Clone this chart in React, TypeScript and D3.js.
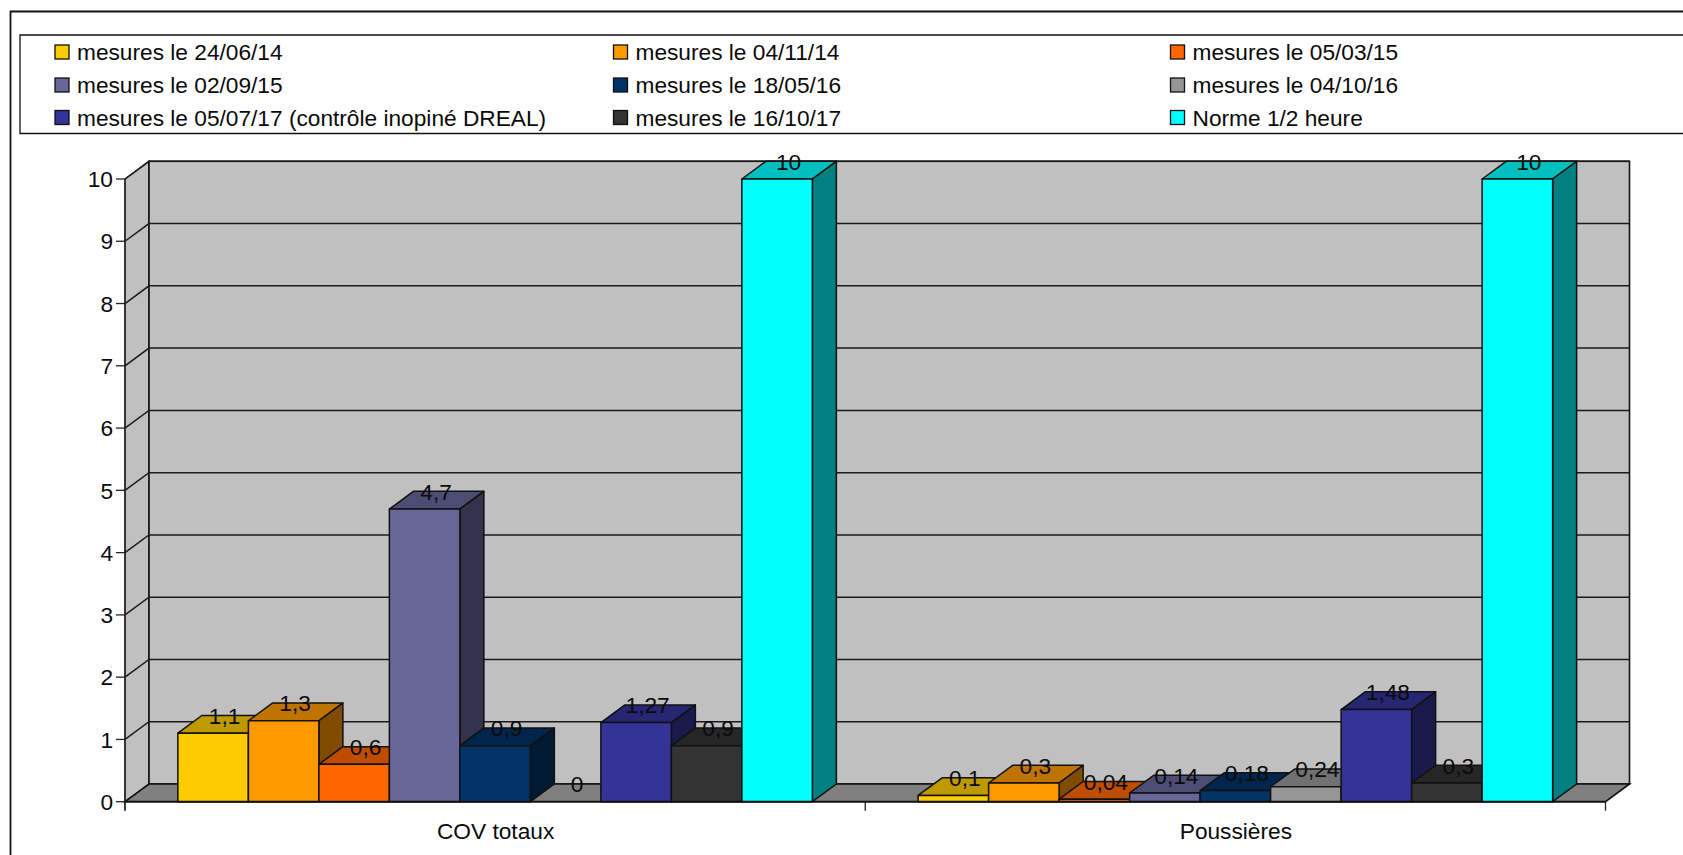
import React from "react";
import * as d3 from "d3";

// Measurement campaigns, one bar per campaign in each category.
const seriesNames = [
  "mesures le 24/06/14",
  "mesures le 04/11/14",
  "mesures le 05/03/15",
  "mesures le 02/09/15",
  "mesures le 18/05/16",
  "mesures le 04/10/16",
  "mesures le 05/07/17 (contrôle inopiné DREAL)",
  "mesures le 16/10/17",
  "Norme 1/2 heure",
];
const seriesColors = ["#FFCC00", "#FF9900", "#FF6600", "#666699", "#003366", "#969696", "#333399", "#333333", "#00FFFF"];
const categories = ["COV totaux", "Poussières"];
const covValues = [1.1, 1.3, 0.6, 4.7, 0.9, 0, 1.27, 0.9, 10];
const poussieresValues = [0.1, 0.3, 0.04, 0.14, 0.18, 0.24, 1.48, 0.3, 10];
const yTicks = [0, 1, 2, 3, 4, 5, 6, 7, 8, 9, 10];

const FONT = "'Liberation Sans', Arial, sans-serif";
const FS = 22.7;
const W = 1683;
const H = 855;
const X0 = 125;
const X1 = 1605.5;
const Y0 = 801.7;
const Y10 = 179;
const DX = 24;
const DY = -17.7;

const shade = (c: string, k: number) => {
  const r = d3.rgb(c);
  return d3.rgb(r.r * k, r.g * k, r.b * k).formatHex();
};
const pts = (p: number[][]) => p.map((q) => q.join(",")).join(" ");
const fmt = (v: number) => String(v).replace(".", ",");

export default function App() {
  const y = d3.scaleLinear().domain([0, 10]).range([Y0, Y10]);
  const xCat = d3.scaleBand<string>().domain(categories).range([X0, X1]);
  const xBar = d3
    .scaleBand<number>()
    .domain(d3.range(seriesNames.length))
    .range([0, xCat.bandwidth()])
    .paddingInner(0)
    .paddingOuter(0.75);
  const rows = [covValues, poussieresValues];
  const bw = xBar.bandwidth();

  const legendCols = [54.5, 613, 1170];
  const legendRows = [52, 85, 117.5];

  return (
    <svg width={W} height={H} style={{ position: "absolute", left: 0, top: 0, background: "#fff" }} fontFamily={FONT} fontSize={FS}>
      {/* chart frame, open on the right and at the bottom */}
      <path d={`M10.5,${H} V11.5 H${W}`} fill="none" stroke="#111" strokeWidth={1.8} />
      <path d={`M${W},35 H20 V133.5 H${W}`} fill="none" stroke="#111" strokeWidth={1.3} />

      {seriesNames.map((name, i) => {
        const cx = legendCols[i % 3];
        const cy = legendRows[Math.floor(i / 3)];
        return (
          <g key={name}>
            <rect x={cx + 0.5} y={cy - 7} width={14} height={14} fill={seriesColors[i]} stroke="#111" strokeWidth={1.3} />
            <text x={cx + 22.5} y={cy} dy="0.36em" fill="#0a0a0a">{name}</text>
          </g>
        );
      })}

      {/* side wall, back wall and floor */}
      <polygon points={pts([[X0, Y0], [X0 + DX, Y0 + DY], [X0 + DX, Y10 + DY], [X0, Y10]])} fill="#C0C0C0" stroke="#111" strokeWidth={1.3} />
      <rect x={X0 + DX} y={Y10 + DY} width={X1 - X0} height={Y0 - Y10} fill="#C0C0C0" stroke="#111" strokeWidth={1.6} />
      <polygon points={pts([[X0, Y0], [X0 + DX, Y0 + DY], [X1 + DX, Y0 + DY], [X1, Y0]])} fill="#808080" stroke="#111" strokeWidth={1.6} />

      {yTicks.map((t) => (
        <g key={t}>
          {t > 0 && (
            <path d={`M${X0},${y(t)} L${X0 + DX},${y(t) + DY} H${X1 + DX}`} fill="none" stroke="#1a1a1a" strokeWidth={1.5} />
          )}
          <line x1={116} x2={X0} y1={y(t)} y2={y(t)} stroke="#222" strokeWidth={1.3} />
          <text x={113} y={y(t)} dy="0.36em" textAnchor="end" fill="#0a0a0a">{t}</text>
        </g>
      ))}

      {/* bars, painted left to right so each one covers its neighbour's side */}
      {categories.map((cat, ci) =>
        rows[ci].map((v, si) => {
          if (v <= 0) return null;
          const left = (xCat(cat) as number) + (xBar(si) as number);
          const right = left + bw;
          const top = y(v);
          const c = seriesColors[si];
          return (
            <g key={`${cat}-${si}`} stroke="#111" strokeWidth={1.5} strokeLinejoin="round">
              <polygon points={pts([[left, top], [left + DX, top + DY], [right + DX, top + DY], [right, top]])} fill={shade(c, 0.75)} />
              <polygon points={pts([[right, top], [right + DX, top + DY], [right + DX, Y0 + DY], [right, Y0]])} fill={shade(c, 0.5)} />
              <rect x={left} y={top} width={bw} height={Y0 - top} fill={c} />
            </g>
          );
        })
      )}

      {/* axes */}
      <line x1={X0} x2={X0} y1={Y10} y2={810.7} stroke="#222" strokeWidth={1.3} />
      <line x1={X0} x2={X1} y1={Y0} y2={Y0} stroke="#111" strokeWidth={1.8} />
      {[X0, X0 + xCat.bandwidth(), X1].map((x) => (
        <line key={x} x1={x} x2={x} y1={Y0} y2={810.7} stroke="#222" strokeWidth={1.3} />
      ))}
      {categories.map((cat) => (
        <text key={cat} x={(xCat(cat) as number) + xCat.bandwidth() / 2 + 0.5} y={830.5} dy="0.36em" textAnchor="middle" fill="#0a0a0a">{cat}</text>
      ))}

      {/* value labels above each bar */}
      {categories.map((cat, ci) =>
        rows[ci].map((v, si) => (
          <text
            key={`${cat}-l-${si}`}
            x={(xCat(cat) as number) + (xBar(si) as number) + bw / 2 + 11.5}
            y={y(v) - 17.5}
            dy="0.36em"
            textAnchor="middle"
            fill="#0a0a0a"
          >
            {fmt(v)}
          </text>
        ))
      )}
    </svg>
  );
}
